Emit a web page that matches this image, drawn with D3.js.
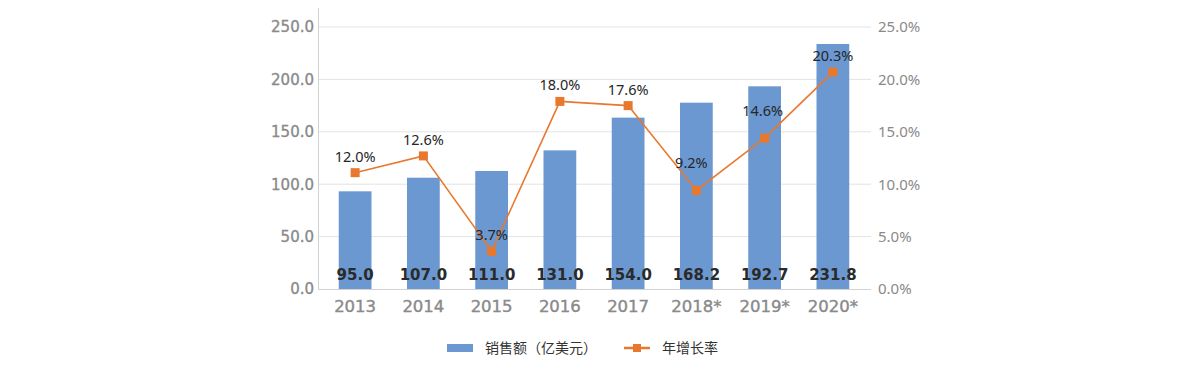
<!DOCTYPE html>
<html>
<head>
<meta charset="utf-8">
<script src="https://cdn.jsdelivr.net/npm/d3@7"></script>
<style>
  body { margin: 0; background: #fff; }
  svg { display: block; }
  .axis path, .axis line { display: none; }
</style>
</head>
<body>
<svg id="chart"></svg>
<script>
// chart data
var years = ['2013', '2014', '2015', '2016', '2017', '2018*', '2019*', '2020*'];
var salesHeights = [93.2, 106.2, 112.6, 132.3, 163.5, 177.8, 193.4, 233.8];
var salesLabels = ['95.0', '107.0', '111.0', '131.0', '154.0', '168.2', '192.7', '231.8'];
var growth = [11.1, 12.7, 3.6, 17.9, 17.5, 9.4, 14.4, 20.7];
var growthLabels = ['12.0%', '12.6%', '3.7%', '18.0%', '17.6%', '9.2%', '14.6%', '20.3%'];
var leftTicks = [0, 50, 100, 150, 200, 250];
var rightTicks = [0, 5, 10, 15, 20, 25];
var legendNames = ['销售额（亿美元）', '年增长率'];

var width = 1200, height = 376;
var blue = '#6b98d0', orange = '#e8782d';

var svg = d3.select('#chart').attr('width', width).attr('height', height);

// scales
var x = d3.scaleBand().domain(years).range([321, 867]).paddingInner(0.52).paddingOuter(0.26);
var yL = d3.scaleLinear().domain([0, 250]).range([289, 27]);
var yR = d3.scaleLinear().domain([0, 25]).range([289, 27]);

// gridlines
svg.append('g').selectAll('line').data(leftTicks.slice(1)).enter().append('line')
  .attr('x1', 318).attr('x2', 871)
  .attr('y1', function(d) { return yL(d); }).attr('y2', function(d) { return yL(d); })
  .attr('stroke', '#e3e3e3').attr('stroke-width', 1);

// axis lines
svg.append('line').attr('x1', 318.5).attr('x2', 318.5).attr('y1', 8).attr('y2', 289.5)
  .attr('stroke', '#d2d2d2');
svg.append('line').attr('x1', 318).attr('x2', 871).attr('y1', 289.5).attr('y2', 289.5)
  .attr('stroke', '#d2d2d2');

// left axis
svg.append('g').attr('class', 'axis').attr('transform', 'translate(318,0)')
  .call(d3.axisLeft(yL).tickValues(leftTicks).tickSize(0).tickPadding(4).tickFormat(d3.format('.1f')))
  .selectAll('text').attr('font-family', 'DejaVu Sans').attr('font-size', 15).attr('fill', '#8a8a8a')
  .attr('stroke', '#8a8a8a').attr('stroke-width', 0.35);

// right axis
svg.append('g').attr('class', 'axis').attr('transform', 'translate(871,0)')
  .call(d3.axisRight(yR).tickValues(rightTicks).tickSize(0).tickPadding(7).tickFormat(function(d) { return d.toFixed(1) + '%'; }))
  .selectAll('text').attr('font-family', 'Noto Sans').attr('font-size', 15).attr('fill', '#8a8a8a');

// bottom axis
svg.append('g').attr('class', 'axis').attr('transform', 'translate(0,289)')
  .call(d3.axisBottom(x).tickSize(0).tickPadding(11))
  .selectAll('text').attr('font-family', 'DejaVu Sans').attr('font-size', 16.5).attr('fill', '#8a8a8a')
  .attr('stroke', '#8a8a8a').attr('stroke-width', 0.4);

// bars
svg.append('g').selectAll('rect').data(salesHeights).enter().append('rect')
  .attr('x', function(d, i) { return x(years[i]); })
  .attr('width', x.bandwidth())
  .attr('y', function(d) { return yL(d); })
  .attr('height', function(d) { return yL(0) - yL(d); })
  .attr('fill', blue);

// bar value labels
svg.append('g').selectAll('text').data(salesLabels).enter().append('text')
  .attr('x', function(d, i) { return x(years[i]) + x.bandwidth() / 2; })
  .attr('y', 279.5)
  .attr('text-anchor', 'middle')
  .attr('font-family', 'DejaVu Sans').attr('font-weight', 'bold').attr('font-size', 15)
  .attr('fill', '#2a2a2a')
  .text(function(d) { return d; });

// growth line
var line = d3.line()
  .x(function(d, i) { return x(years[i]) + x.bandwidth() / 2; })
  .y(function(d) { return yR(d); });
svg.append('path').datum(growth).attr('d', line)
  .attr('fill', 'none').attr('stroke', orange).attr('stroke-width', 1.6);

svg.append('g').selectAll('rect').data(growth).enter().append('rect')
  .attr('x', function(d, i) { return x(years[i]) + x.bandwidth() / 2 - 4.5; })
  .attr('y', function(d) { return yR(d) - 4.5; })
  .attr('width', 9).attr('height', 9)
  .attr('fill', orange);

// growth labels, most sit just above the marker, two sit higher
var labelLift = function(i) { return (i === 5 || i === 6) ? 22 : 11; };
svg.append('g').selectAll('text').data(growthLabels).enter().append('text')
  .attr('x', function(d, i) { return x(years[i]) + x.bandwidth() / 2 + (i === 5 ? -5 : i === 6 ? -2 : 0); })
  .attr('y', function(d, i) { return yR(growth[i]) - labelLift(i); })
  .attr('text-anchor', 'middle')
  .attr('font-family', 'Noto Sans').attr('font-size', 14.5)
  .attr('fill', '#262626')
  .text(function(d) { return d; });

// legend
var legend = svg.append('g');
legend.append('rect').attr('x', 447).attr('y', 344).attr('width', 26).attr('height', 8).attr('fill', blue);
legend.append('text').attr('x', 485).attr('y', 353)
  .attr('font-family', 'Noto Sans CJK SC').attr('font-size', 14).attr('fill', '#333')
  .text(legendNames[0]);
legend.append('line').attr('x1', 624).attr('x2', 650).attr('y1', 348).attr('y2', 348)
  .attr('stroke', orange).attr('stroke-width', 2.5);
legend.append('rect').attr('x', 633).attr('y', 344).attr('width', 8).attr('height', 8).attr('fill', orange);
legend.append('text').attr('x', 662).attr('y', 353)
  .attr('font-family', 'Noto Sans CJK SC').attr('font-size', 14).attr('fill', '#333')
  .text(legendNames[1]);
</script>
</body>
</html>
